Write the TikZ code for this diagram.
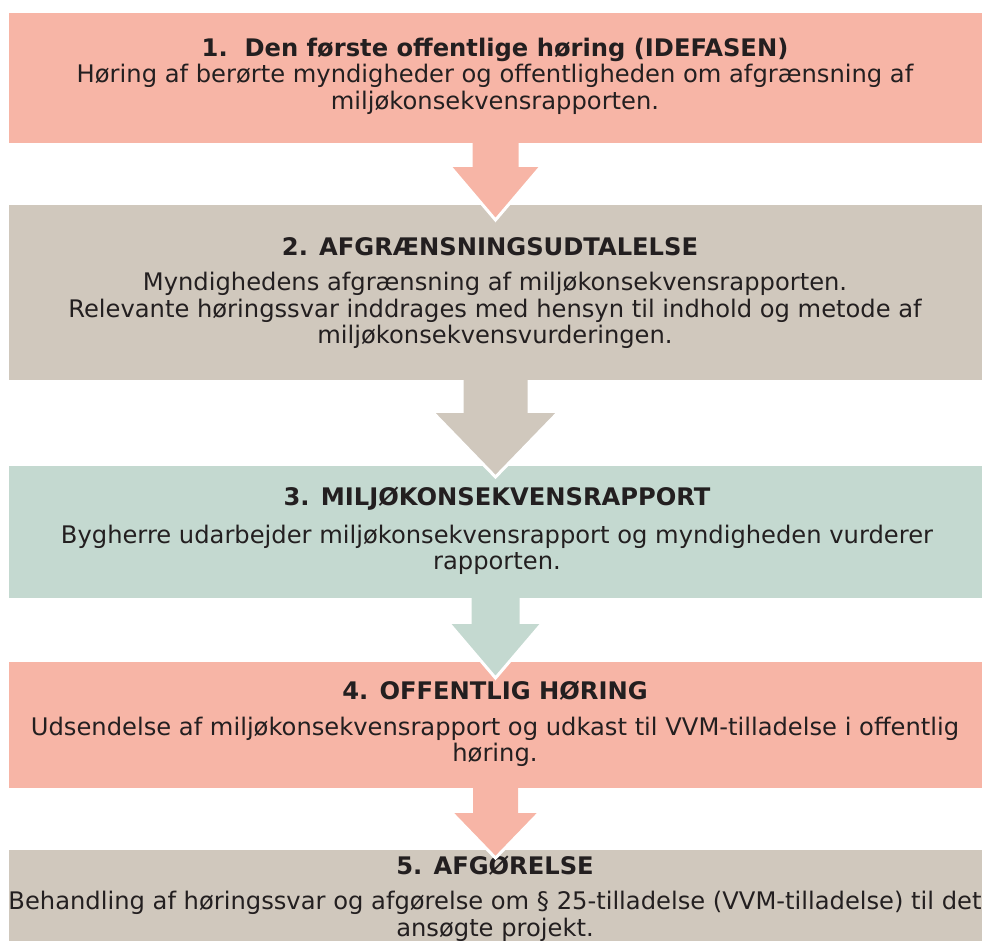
\documentclass[tikz,border=0pt]{standalone}
\usepackage{fontspec}
\setmainfont{DejaVu Sans}
\usetikzlibrary{calc}
\definecolor{salmon}{HTML}{F7B5A6}
\definecolor{stone}{HTML}{D0C8BD}
\definecolor{sage}{HTML}{C4D9D0}
\definecolor{ink}{HTML}{231F20}
\tikzset{
  stagebox/.style={rectangle, draw=none, inner sep=0pt, outer sep=0pt, anchor=north west, minimum width=973pt},
  titletext/.style={text=ink, font=\fontsize{24.2}{26}\selectfont\bfseries, inner sep=0pt},
  bodytext/.style={text=ink, font=\fontsize{24.2}{26.5}\selectfont, align=center, inner sep=0pt},
}
% #1 from node, #2 to node, #3 colour, #4 shaft half width, #5 head half width, #6 shaft length, #7 tip depth below next box top
\newcommand{\stagearrow}[7]{%
  \coordinate (tip) at ($(#2.north)+(0,#7)$);
  \fill[#3] ($(#1.south)+(-#4,-1)$) -- ($(#1.south)+(#4,-1)$) -- ($(#1.south)+(#4,#6)$)
     -- ($(#1.south)+(#5,#6)$) -- (tip) -- ($(#1.south)+(-#5,#6)$) -- ($(#1.south)+(-#4,#6)$) -- cycle;
  \draw[white, line width=3pt, line join=miter] ($(#1.south)+(#5,#6)$) -- (tip) -- ($(#1.south)+(-#5,#6)$);
}
\begin{document}
\begin{tikzpicture}[x=1pt, y=-1pt]
\useasboundingbox (0,0) rectangle (985,940);
\clip (0,0) rectangle (985,940);
% boxes
\node[stagebox, fill=salmon, minimum height=130pt] (b1) at (9,13) {};
\node[stagebox, fill=stone,  minimum height=175pt] (b2) at (9,205) {};
\node[stagebox, fill=sage,   minimum height=132pt] (b3) at (9,466) {};
\node[stagebox, fill=salmon, minimum height=126pt] (b4) at (9,662) {};
\node[stagebox, fill=stone,  minimum height=100pt] (b5) at (9,850) {};
% texts
\node[titletext] (t1) at (495,50) {1.\ \ Den første offentlige høring (IDEFASEN)};
\node[bodytext] (x1) at (495,89.5) {Høring af berørte myndigheder og offentligheden om afgrænsning af\\miljøkonsekvensrapporten.};
\node[titletext] (t2) at (490,247) {2. AFGRÆNSNINGSUDTALELSE};
\node[bodytext] (x2) at (495,310.5) {Myndighedens afgrænsning af miljøkonsekvensrapporten.\\Relevante høringssvar inddrages med hensyn til indhold og metode af\\miljøkonsekvensvurderingen.};
\node[titletext] (t3) at (497,499) {3. MILJØKONSEKVENSRAPPORT};
\node[bodytext] (x3) at (497,550) {Bygherre udarbejder miljøkonsekvensrapport og myndigheden vurderer\\rapporten.};
\node[titletext] (t4) at (495,691) {4. OFFENTLIG HØRING};
\node[bodytext] (x4) at (495,742) {Udsendelse af miljøkonsekvensrapport og udkast til VVM-tilladelse i offentlig\\høring.};
\node[titletext] (t5) at (495,866) {5. AFGØRELSE};
\node[bodytext] (x5) at (495,916.5) {Behandling af høringssvar og afgørelse om § 25-tilladelse (VVM-tilladelse) til det\\ansøgte projekt.};
% arrows
\stagearrow{b1}{b2}{salmon}{23}{45}{24}{15}
\stagearrow{b2}{b3}{stone}{32}{62}{33}{11}
\stagearrow{b3}{b4}{sage}{24}{46}{26}{16}
\stagearrow{b4}{b5}{salmon}{22.5}{43.5}{25}{8}
\end{tikzpicture}
\end{document}
